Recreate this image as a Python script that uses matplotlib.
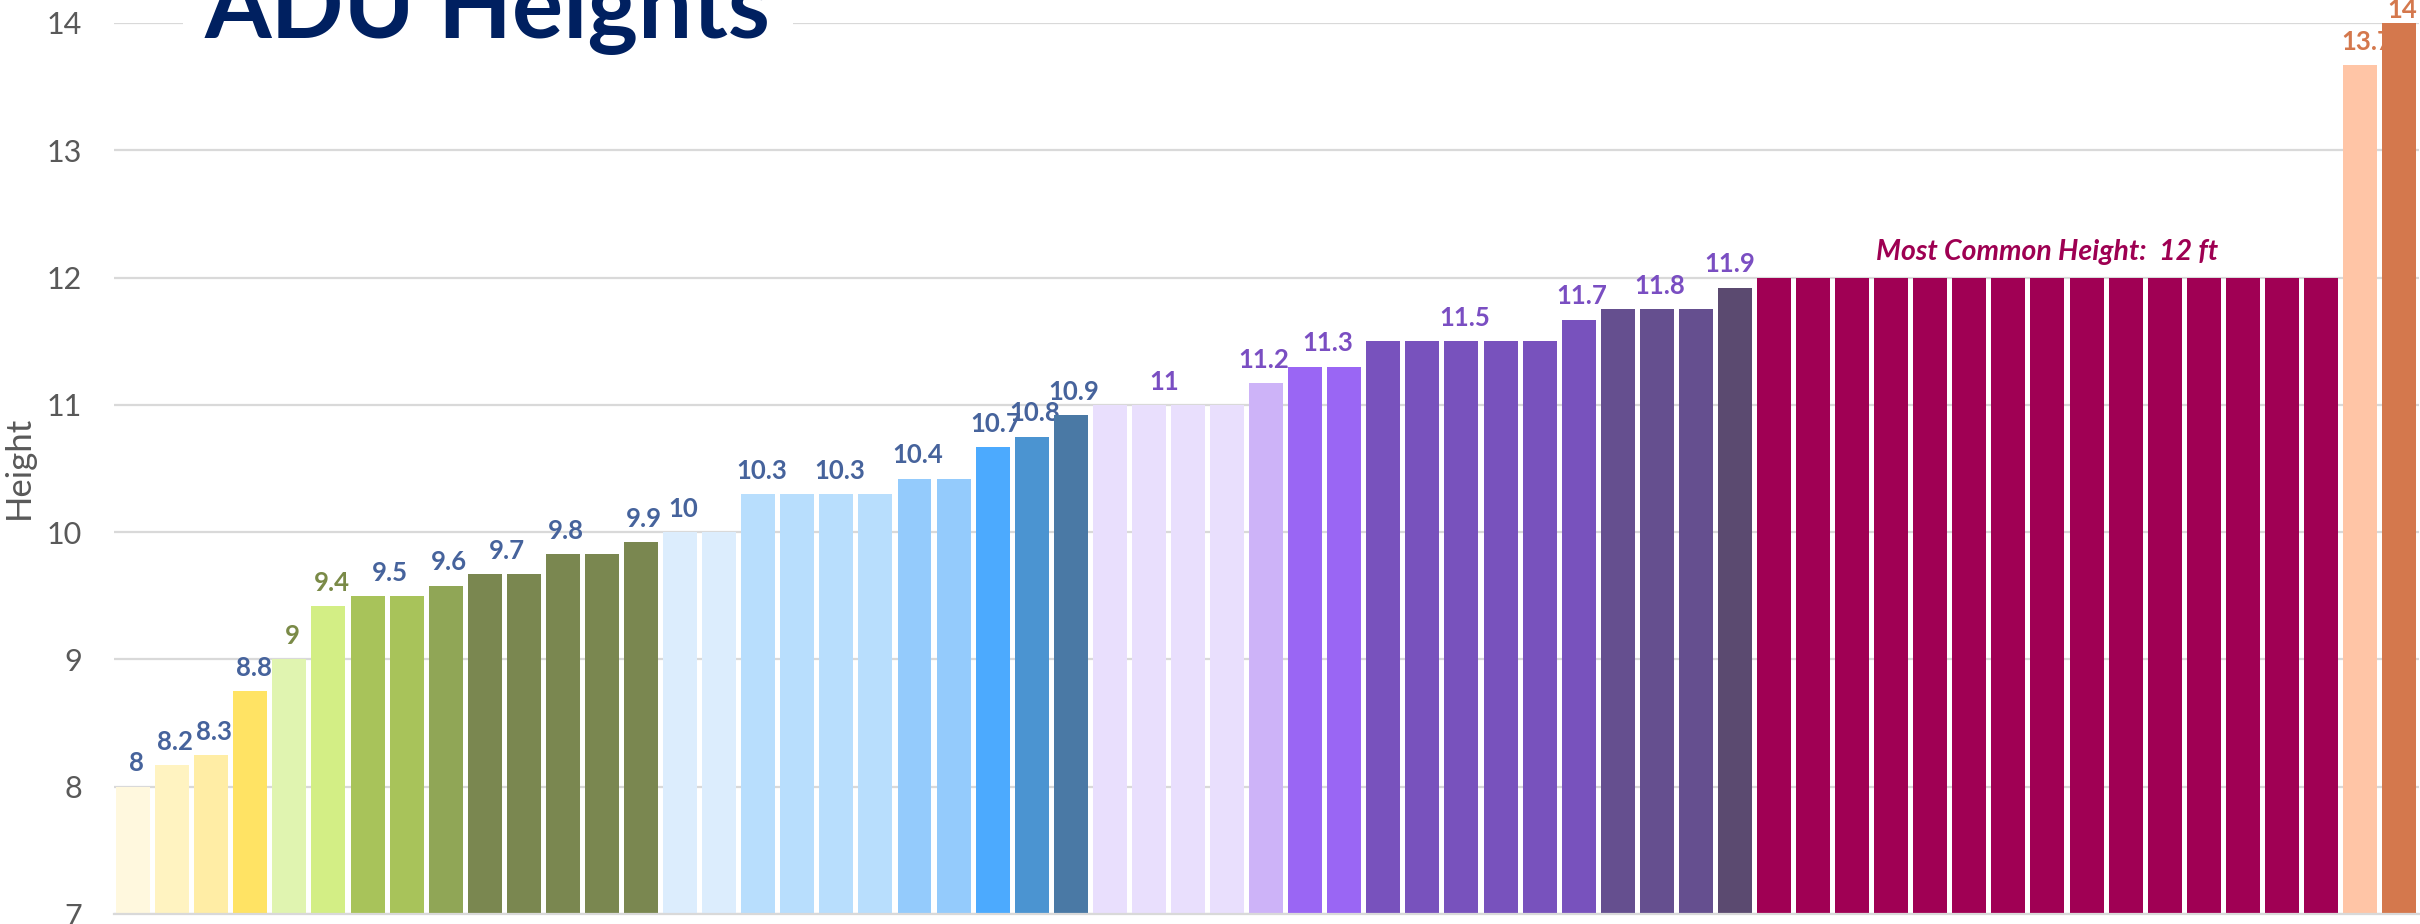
import matplotlib
matplotlib.use("Agg")
import matplotlib.pyplot as plt

# ADU heights in feet, sorted ascending
heights = [8.0, 8.17, 8.25, 8.75, 9.0, 9.42, 9.5, 9.5, 9.58, 9.67, 9.67, 9.83, 9.83, 9.92,
           10.0, 10.0, 10.3, 10.3, 10.3, 10.3, 10.42, 10.42, 10.67, 10.75, 10.92,
           11.0, 11.0, 11.0, 11.0, 11.17, 11.3, 11.3, 11.5, 11.5, 11.5, 11.5, 11.5,
           11.67, 11.75, 11.75, 11.75, 11.92,
           12.0, 12.0, 12.0, 12.0, 12.0, 12.0, 12.0, 12.0, 12.0, 12.0, 12.0, 12.0, 12.0, 12.0, 12.0,
           13.67, 14.0]

bar_colors = (["#FFF8DE", "#FFF3C1", "#FFEDA5", "#FFE364", "#E0F4B0", "#D3EE85",
               "#A8C35A", "#A8C35A", "#90A656"] + ["#7A8750"] * 5 +
              ["#DCEDFD"] * 2 + ["#B8DEFD"] * 4 + ["#94CBFC"] * 2 +
              ["#4CAAFE", "#4B94D1", "#4A79A5"] +
              ["#E9DFFD"] * 4 + ["#CDB3F8"] + ["#9A66F4"] * 2 + ["#7852BD"] * 6 +
              ["#654F8F"] * 3 + ["#5B4A70"] + ["#A00054"] * 15 + ["#FFC5A6", "#D4784D"])

# which bars carry a value label, and the horizontal nudge of each label (in bar units)
label_bars = [0, 1, 2, 3, 4, 5, 6, 8, 9, 11, 13, 14, 16, 18, 20, 22, 23, 24,
              26, 29, 30, 34, 37, 39, 41, 57, 58]
label_shift = [0, 0, 0, 0, 0, 0, 0.5, 0, 0.5, 0, 0, 0, 0, 0, 0, 0, 0, 0,
               0.3, -0.15, 0.5, 0, 0, 0, -0.2, 0.1, 0]
label_lift = [11] * 26 + [3.5]

BLUE_LBL = "#46639C"
OLIVE_LBL = "#7A8A47"
PURPLE_LBL = "#7A4EC2"
ORANGE_LBL = "#D4784D"


def label_color(v):
    if v >= 13:
        return ORANGE_LBL
    if v >= 11:
        return PURPLE_LBL
    if 9.0 <= v < 9.45:
        return OLIVE_LBL
    return BLUE_LBL


def fmt(v):
    r = int(v * 10 + 0.5 + 1e-9) / 10
    return f"{r:g}"


plt.rcParams["font.family"] = ["Lato", "DejaVu Sans"]

W, H = 2420, 924
fig = plt.figure(figsize=(W / 100, H / 100), dpi=100)
ax = fig.add_axes([114 / W, 10 / H, (2419 - 114) / W, (914 - 23) / H])

x = list(range(len(heights)))
ax.bar(x, [h - 7 for h in heights], bottom=7, width=0.87, color=bar_colors, zorder=2)

ax.set_xlim(-0.49, len(heights) - 0.49)
ax.set_ylim(7, 14)
ax.set_yticks(range(7, 15))
ax.set_xticks([])
ax.tick_params(axis="y", length=0, pad=23, labelsize=22, labelcolor="#595959")
ax.yaxis.grid(True, color="#D9D9D9", linewidth=1.6, zorder=0)
ax.set_axisbelow(True)
for side in ("top", "right", "left"):
    ax.spines[side].set_visible(False)
ax.spines["bottom"].set_color("#D9D9D9")
ax.spines["bottom"].set_linewidth(1.6)

for b, dx, lift in zip(label_bars, label_shift, label_lift):
    v = heights[b]
    ax.annotate(fmt(v), xy=(b + dx + 0.08, v), xytext=(0, lift), textcoords="offset points",
                ha="center", va="baseline", fontsize=18.5, fontweight="bold",
                color=label_color(v), zorder=1.8, annotation_clip=False)

# annotation over the block of 12 ft bars
mode_idx = [i for i, h in enumerate(heights) if h == 12.0]
mid = (mode_idx[0] + mode_idx[-1]) / 2
ax.annotate("Most Common Height:  12 ft", xy=(mid, 12.0), xytext=(0, 13),
            textcoords="offset points", ha="center", va="baseline",
            fontsize=20.4, fontweight="bold", fontstyle="italic", color="#9E0052")

fig.text(19 / W, 1 - 467 / H, "Height", rotation=90, ha="center", va="center",
         fontsize=25, color="#595959")

fig.text(205 / W, 1 - 38 / H, "ADU Heights", ha="left", va="baseline",
         fontsize=69, fontweight="bold", color="#002060", zorder=5,
         bbox=dict(facecolor="white", edgecolor="none", pad=16))

fig.savefig("out.png", dpi=100, facecolor="white")
